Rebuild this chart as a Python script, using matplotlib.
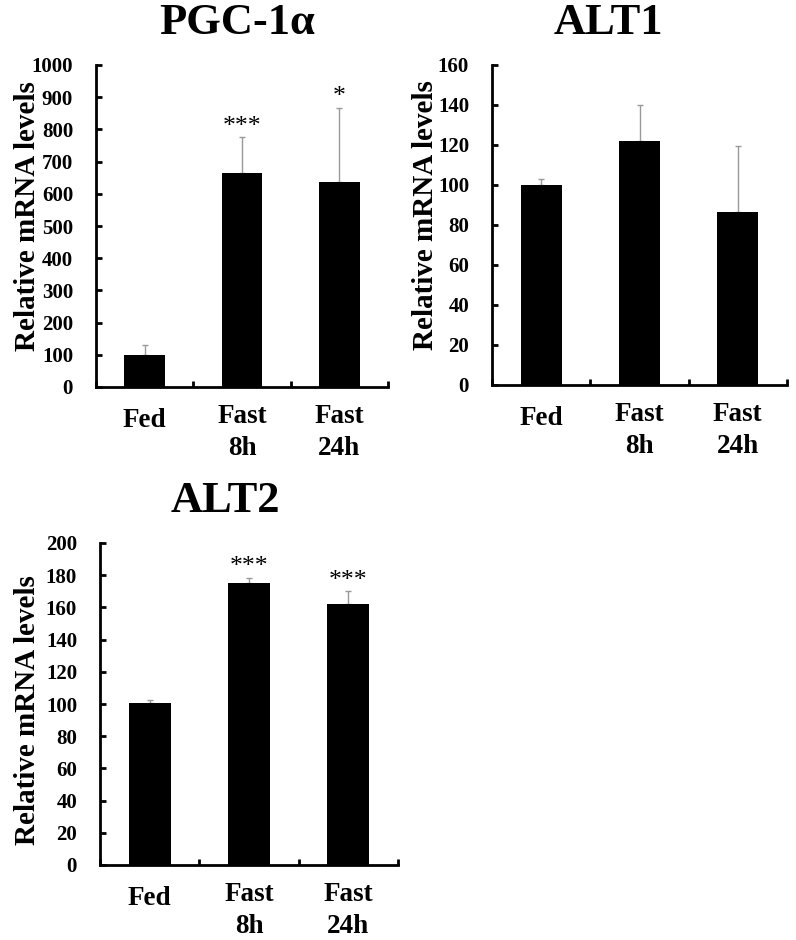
import matplotlib
matplotlib.use("Agg")
import matplotlib.pyplot as plt
import matplotlib.transforms as mtransforms
import numpy as np

plt.rcParams['font.family'] = ['Liberation Serif', 'DejaVu Serif']

categories = ["Fed", "Fast\n8h", "Fast\n24h"]

pgc_values = [100, 665, 638]
pgc_err = [30, 110, 230]
pgc_stars = ["", "***", "*"]

alt1_values = [100, 122, 86.5]
alt1_err = [3, 18, 33]
alt1_stars = ["", "", ""]

alt2_values = [100.5, 175, 162]
alt2_err = [1.8, 3.5, 8]
alt2_stars = ["", "***", "***"]

W, H = 796, 940
fig = plt.figure(figsize=(W / 100, H / 100), dpi=100)


def add_axes(left, right, top, bottom):
    return fig.add_axes([left / W, 1 - bottom / H, (right - left) / W, (bottom - top) / H])


panels = [
    dict(box=(96, 388, 65, 387), title="PGC-1α", tx=0.485, vals=pgc_values, err=pgc_err,
         stars=pgc_stars, ymax=1000, step=100, lab=(-0.209, 0.53)),
    dict(box=(492, 787, 65, 385), title="ALT1", tx=0.393, vals=alt1_values, err=alt1_err,
         stars=alt1_stars, ymax=160, step=20, lab=(-0.2, 0.53)),
    dict(box=(100, 398, 543, 865), title="ALT2", tx=0.42, vals=alt2_values, err=alt2_err,
         stars=alt2_stars, ymax=200, step=20, lab=(-0.218, 0.48)),
]

for p in panels:
    ax = add_axes(*p["box"])
    x = np.arange(len(categories))
    ax.bar(x, p["vals"], width=0.42, color="black", zorder=2)
    ax.errorbar(x, p["vals"], yerr=[np.zeros(len(x)), p["err"]], fmt="none",
                ecolor="#999999", elinewidth=1.0, capsize=2.5, capthick=1.0, zorder=1)
    for xi, v, e, s in zip(x, p["vals"], p["err"], p["stars"]):
        if s:
            ax.annotate(s, (xi, v + e), xytext=(0, -0.5), textcoords="offset points",
                        ha="center", va="bottom", fontsize=18.5)
    ax.set_xlim(-0.5, len(categories) - 0.5)
    ax.set_ylim(0, p["ymax"])
    ticks = np.arange(0, p["ymax"] + 1, p["step"])
    ax.set_yticks(ticks)
    ax.set_yticklabels([str(int(t)) for t in ticks], fontsize=15, fontweight="bold")
    ax.set_xticks(x)
    labels = ax.set_xticklabels(categories, fontsize=19.5, fontweight="bold", linespacing=1.37)
    ax.set_xticks(np.arange(-0.5, len(categories)), minor=True)
    ax.tick_params(axis="x", which="major", length=0, pad=12)
    ax.tick_params(axis="x", which="minor", direction="in", length=4, width=2)
    ax.tick_params(axis="y", direction="in", length=4, width=2, pad=16.5)
    # single-line label sits slightly lower in the reference
    labels[0].set_transform(labels[0].get_transform() +
                            mtransforms.ScaledTranslation(0, -4 / 100, fig.dpi_scale_trans))
    for sp in ["top", "right"]:
        ax.spines[sp].set_visible(False)
    for sp in ["left", "bottom"]:
        ax.spines[sp].set_linewidth(2)
    ax.set_ylabel("Relative mRNA levels", fontsize=21, fontweight="bold")
    ax.yaxis.label.set_verticalalignment("baseline")
    ax.yaxis.set_label_coords(*p["lab"])
    ax.set_title(p["title"], fontsize=32, fontweight="bold", x=p["tx"], pad=22)

fig.savefig("out.png", dpi=100)
